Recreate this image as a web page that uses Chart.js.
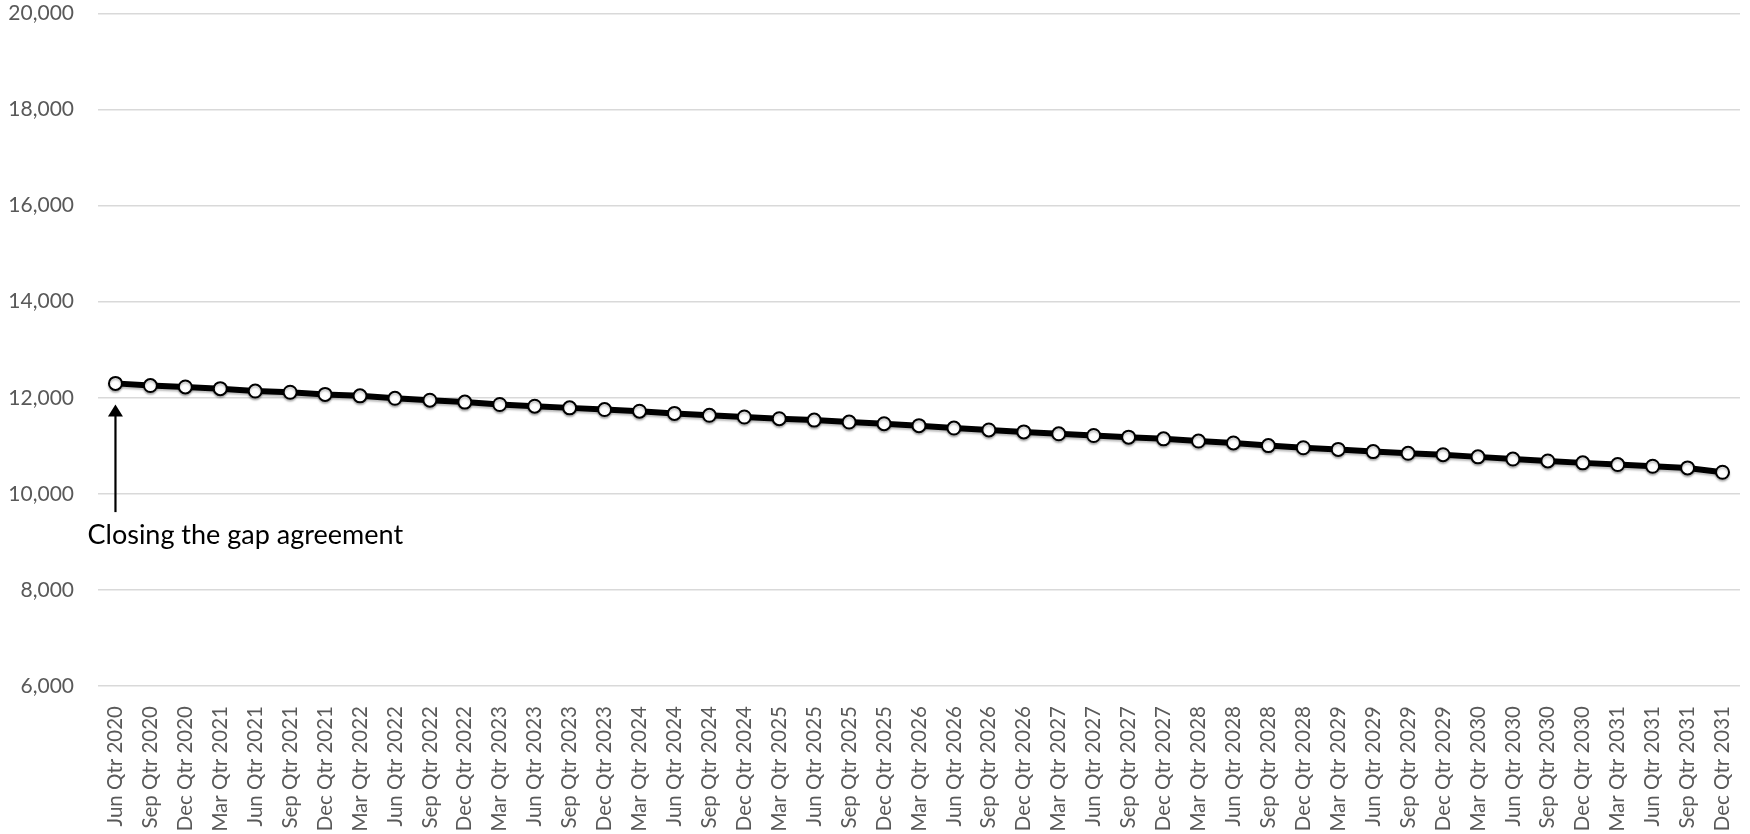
<!DOCTYPE html>
<html>
<head>
<meta charset="utf-8">
<title>Quarterly projection</title>
<script src="https://cdn.jsdelivr.net/npm/chart.js@4.4.1/dist/chart.umd.min.js"></script>
<style>
    html, body { margin: 0; padding: 0; background: #ffffff; }
    #wrap { width: 1750px; height: 834px; position: relative; }
</style>
</head>
<body>
<div id="wrap"><canvas id="myChart"></canvas></div>
<script>
// Quarters on the x axis
const quarters = [
    "Jun Qtr 2020", "Sep Qtr 2020", "Dec Qtr 2020",
    "Mar Qtr 2021", "Jun Qtr 2021", "Sep Qtr 2021", "Dec Qtr 2021",
    "Mar Qtr 2022", "Jun Qtr 2022", "Sep Qtr 2022", "Dec Qtr 2022",
    "Mar Qtr 2023", "Jun Qtr 2023", "Sep Qtr 2023", "Dec Qtr 2023",
    "Mar Qtr 2024", "Jun Qtr 2024", "Sep Qtr 2024", "Dec Qtr 2024",
    "Mar Qtr 2025", "Jun Qtr 2025", "Sep Qtr 2025", "Dec Qtr 2025",
    "Mar Qtr 2026", "Jun Qtr 2026", "Sep Qtr 2026", "Dec Qtr 2026",
    "Mar Qtr 2027", "Jun Qtr 2027", "Sep Qtr 2027", "Dec Qtr 2027",
    "Mar Qtr 2028", "Jun Qtr 2028", "Sep Qtr 2028", "Dec Qtr 2028",
    "Mar Qtr 2029", "Jun Qtr 2029", "Sep Qtr 2029", "Dec Qtr 2029",
    "Mar Qtr 2030", "Jun Qtr 2030", "Sep Qtr 2030", "Dec Qtr 2030",
    "Mar Qtr 2031", "Jun Qtr 2031", "Sep Qtr 2031", "Dec Qtr 2031"
];

// Projected numbers per quarter
const values = [
    12300, 12255, 12225,
    12190, 12140, 12115, 12070,
    12040, 11990, 11950, 11910,
    11860, 11825, 11790, 11755,
    11720, 11675, 11635, 11600,
    11565, 11535, 11495, 11460,
    11420, 11370, 11330, 11290,
    11250, 11215, 11180, 11145,
    11100, 11060, 11005, 10960,
    10925, 10880, 10845, 10815,
    10770, 10725, 10685, 10645,
    10610, 10575, 10540, 10450
];

// y axis range and step
const yMin = 6000;
const yMax = 20000;
const yStep = 2000;

// Annotation: arrow from / to (axis values) and the label under it
const noteText = "Closing the gap agreement";
const noteIndex = 0;
const arrowFrom = 9620;
const arrowTo = 11860;
const noteAt = 9130;

const FONT = "Lato, 'Open Sans', sans-serif";

// soft shadow under the line
const shadowPlugin = {
    id: "lineShadow",
    beforeDatasetDraw(chart) {
        const ctx = chart.ctx;
        ctx.save();
        ctx.shadowColor = "rgba(0, 0, 0, 0.25)";
        ctx.shadowBlur = 2;
        ctx.shadowOffsetY = 2;
    },
    afterDatasetDraw(chart) {
        chart.ctx.restore();
    }
};

// draws the arrow and the text at the first quarter
const notePlugin = {
    id: "note",
    afterDatasetsDraw(chart) {
        const ctx = chart.ctx;
        const x = chart.scales.x.getPixelForValue(noteIndex);
        const yScale = chart.scales.y;
        const y0 = yScale.getPixelForValue(arrowFrom);
        const y1 = yScale.getPixelForValue(arrowTo);

        ctx.save();
        ctx.strokeStyle = "#000";
        ctx.fillStyle = "#000";
        ctx.lineWidth = 2.2;
        ctx.beginPath();
        ctx.moveTo(x, y0);
        ctx.lineTo(x, y1 + 10);
        ctx.stroke();
        // arrow head
        ctx.beginPath();
        ctx.moveTo(x, y1);
        ctx.lineTo(x - 7.5, y1 + 12);
        ctx.lineTo(x + 7.5, y1 + 12);
        ctx.closePath();
        ctx.fill();

        ctx.font = "27px " + FONT;
        ctx.textAlign = "left";
        ctx.textBaseline = "middle";
        ctx.fillText(noteText, x - 28, yScale.getPixelForValue(noteAt));
        ctx.restore();
    }
};

document.addEventListener("DOMContentLoaded", function() {
    renderChart();
});

function renderChart() {
    const ctx = document.getElementById("myChart").getContext("2d");

    new Chart(ctx, {
        type: "line",
        data: {
            labels: quarters,
            datasets: [{
                data: values,
                borderColor: "#000000",
                borderWidth: 6,
                pointRadius: 6.5,
                pointBorderWidth: 2,
                pointBackgroundColor: "#ffffff",
                pointBorderColor: "#000000",
                tension: 0
            }]
        },
        options: {
            responsive: true,
            maintainAspectRatio: false,
            animation: false,
            layout: { padding: { top: 13.5, right: 10, left: 0, bottom: 0 } },
            plugins: {
                legend: { display: false },
                tooltip: { enabled: false }
            },
            scales: {
                x: {
                    offset: true,
                    grid: { display: false },
                    border: { display: false },
                    ticks: {
                        autoSkip: false,
                        maxRotation: 90,
                        minRotation: 90,
                        padding: 12,
                        color: "#595959",
                        font: { family: FONT, size: 20.5 }
                    },
                    afterFit(scale) {
                        scale.height = 148;
                        scale.paddingLeft = 0;
                        scale.paddingRight = 0;
                    }
                },
                y: {
                    min: yMin,
                    max: yMax,
                    grid: { color: "#d9d9d9", lineWidth: 1.5, drawTicks: false },
                    border: { display: false },
                    ticks: {
                        stepSize: yStep,
                        padding: 24,
                        color: "#595959",
                        font: { family: FONT, size: 21 },
                        callback: v => v.toLocaleString("en-US")
                    },
                    afterFit(scale) {
                        scale.width = 98;
                        scale.paddingTop = 0;
                        scale.paddingBottom = 0;
                    }
                }
            }
        },
        plugins: [shadowPlugin, notePlugin]
    });
}
</script>
</body>
</html>
